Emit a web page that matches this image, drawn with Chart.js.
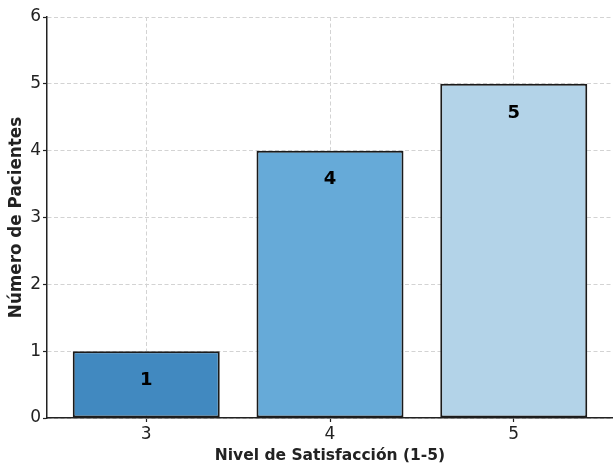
<!DOCTYPE html>
<html><head><meta charset="utf-8">
<script src="https://cdn.jsdelivr.net/npm/chart.js@4.4.1/dist/chart.umd.min.js"></script>
<style>html,body{margin:0;padding:0;background:#fff;}canvas{display:block;}</style>
</head><body>
<canvas id="c" width="613" height="463"></canvas>
<script>
const categories = ["3", "4", "5"];
const pacientes = [1, 4, 5];
const barColors = ["#4189c0", "#66aad8", "#b3d3e8"];
const yTicks = [0, 1, 2, 3, 4, 5, 6];

const FONT = "'DejaVu Sans', sans-serif";
const TXT = '#222222';

const labelPlugin = {
  id: 'barLabels',
  afterDraw(chart) {
    const ctx = chart.ctx;
    const meta = chart.getDatasetMeta(0);
    ctx.save();
    ctx.font = "bold 18px " + FONT;
    ctx.fillStyle = '#000';
    ctx.textAlign = 'center';
    ctx.textBaseline = 'middle';
    meta.data.forEach((bar, i) => {
      ctx.fillText(String(pacientes[i]), bar.x, bar.y + 29);
    });
    ctx.restore();
  }
};

const gridOpts = {color: '#d3d3d3', lineWidth: 1, tickLength: 4, tickColor: '#222', tickBorderDash: [], tickWidth: 1.2, offset: false};
const borderOpts = {display: true, color: '#222', width: 1.5, dash: [4, 2.5]};

new Chart(document.getElementById('c'), {
  type: 'bar',
  data: {
    datasets: [{
      data: categories.map((c, i) => ({x: i, y: pacientes[i]})),
      backgroundColor: barColors,
      borderColor: '#1a1a1a',
      borderWidth: 2,
      borderSkipped: false,
      categoryPercentage: 1.0,
      barPercentage: 0.8
    }]
  },
  options: {
    responsive: false,
    animation: false,
    layout: {padding: {top: 17, right: 0, left: 0, bottom: 0}},
    plugins: {legend: {display: false}, tooltip: {enabled: false}},
    scales: {
      x: {
        type: 'linear',
        min: -0.54, max: 2.54,
        offset: false,
        z: 1,
        afterBuildTicks(scale) { scale.ticks = categories.map((c, i) => ({value: i})); },
        afterFit(scale) { scale.height = 45; },
        ticks: {
          callback: (v) => categories[v],
          font: {family: FONT, size: 17}, color: TXT, padding: 2, maxRotation: 0
        },
        grid: gridOpts,
        border: borderOpts,
        title: {display: true, text: 'Nivel de Satisfacción (1-5)', font: {family: FONT, size: 15.5, weight: 'bold'}, color: TXT, padding: {top: 0, bottom: -2}}
      },
      y: {
        min: 0, max: 6,
        z: 1,
        afterBuildTicks(scale) { scale.ticks = yTicks.map(v => ({value: v})); },
        afterFit(scale) { scale.width = 47; },
        ticks: {font: {family: FONT, size: 17}, color: TXT, padding: 2},
        grid: gridOpts,
        border: borderOpts,
        title: {display: true, text: 'Número de Pacientes', font: {family: FONT, size: 16.8, weight: 'bold'}, color: TXT, padding: {top: 7, bottom: 0}}
      }
    }
  },
  plugins: [labelPlugin]
});
</script>
</body></html>
